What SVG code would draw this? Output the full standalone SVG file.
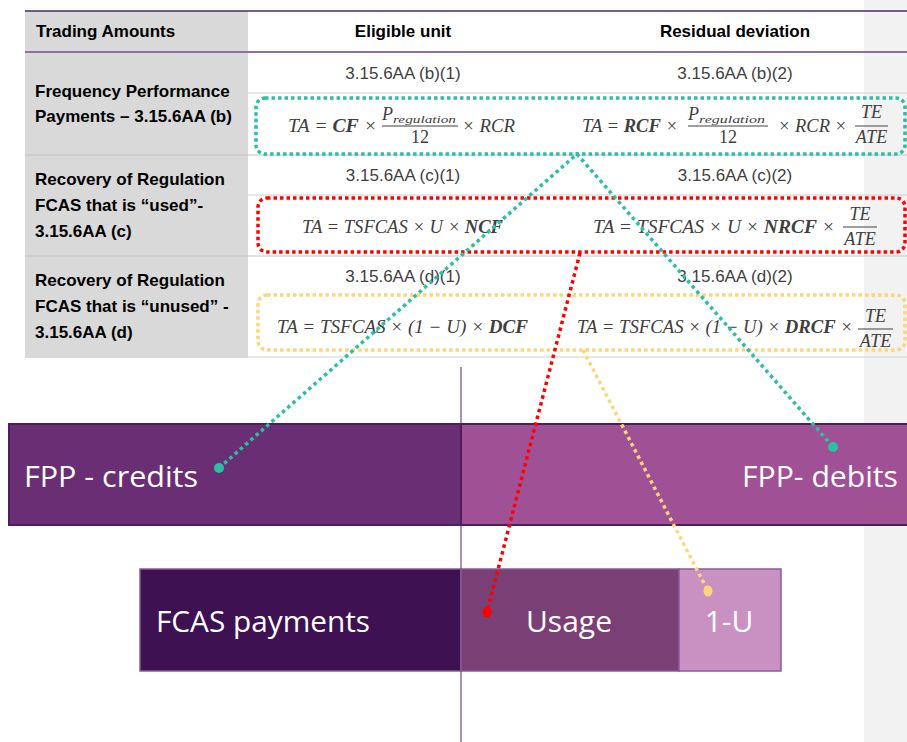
<svg xmlns="http://www.w3.org/2000/svg" width="907" height="742" viewBox="0 0 907 742">
<style>
.hd{font-family:"Liberation Sans",Arial,sans-serif;font-weight:bold;font-size:17px;fill:#000}
.rl{font-family:"Liberation Sans",Arial,sans-serif;font-size:17px;fill:#404040;text-anchor:middle}
.m{font-family:"Liberation Serif","Times New Roman",serif;font-style:italic;font-size:18px;fill:#404040}
.ms{font-family:"Liberation Serif","Times New Roman",serif;font-style:italic;font-size:11px;fill:#404040}
.mu{font-family:"Liberation Serif","Times New Roman",serif;font-size:18px;fill:#404040;text-anchor:middle}
.b{font-weight:bold}
.fl{stroke:#404040;stroke-width:1}
.box{fill:none;stroke-width:3.5;stroke-dasharray:3.5 3}
.bar{font-family:"Open Sans","Liberation Sans",sans-serif;font-size:30px;fill:#fff}
.con{fill:none;stroke-width:3.5;stroke-dasharray:3.5 3.5}
.tl{stroke:#d0d0d0;stroke-width:1}
</style>
<rect x="864" y="0" width="43" height="742" fill="#f2f2f2"/>
<g id="table">
<rect x="25" y="11" width="223" height="347" fill="#d9d9d9"/>
<line x1="25" y1="11" x2="907" y2="11" stroke="#4b2a5e" stroke-width="1.5"/>
<line x1="25" y1="52" x2="907" y2="52" stroke="#8e6fa0" stroke-width="2"/>
<line class="tl" x1="248" y1="93" x2="907" y2="93"/>
<line x1="25" y1="155" x2="907" y2="155" stroke="#c4c4c4" stroke-width="1.2"/>
<line class="tl" x1="248" y1="195" x2="907" y2="195"/>
<line x1="25" y1="256" x2="907" y2="256" stroke="#c4c4c4" stroke-width="1.2"/>
<line class="tl" x1="248" y1="357" x2="907" y2="357"/>
<text class="hd" x="36" y="37">Trading Amounts</text>
<text class="hd" x="403" y="37" text-anchor="middle">Eligible unit</text>
<text class="hd" x="735" y="37" text-anchor="middle">Residual deviation</text>
<text class="hd" x="35" y="97">Frequency Performance</text>
<text class="hd" x="35" y="122">Payments – 3.15.6AA (b)</text>
<text class="hd" x="35" y="185">Recovery of Regulation</text>
<text class="hd" x="35" y="211">FCAS that is “used”-</text>
<text class="hd" x="35" y="237">3.15.6AA (c)</text>
<text class="hd" x="35" y="286">Recovery of Regulation</text>
<text class="hd" x="35" y="312">FCAS that is “unused” -</text>
<text class="hd" x="35" y="338">3.15.6AA (d)</text>
<text class="rl" x="403" y="79">3.15.6AA (b)(1)</text>
<text class="rl" x="735" y="79">3.15.6AA (b)(2)</text>
<text class="rl" x="403" y="181">3.15.6AA (c)(1)</text>
<text class="rl" x="735" y="181">3.15.6AA (c)(2)</text>
<text class="rl" x="403" y="282">3.15.6AA (d)(1)</text>
<text class="rl" x="735" y="282">3.15.6AA (d)(2)</text>
<text class="m" x="288" y="132" textLength="89" lengthAdjust="spacingAndGlyphs">TA = <tspan class="b">CF</tspan> ×</text>
<text class="m" x="382" y="120">P</text>
<text class="ms" x="393" y="123" textLength="63" lengthAdjust="spacingAndGlyphs">regulation</text>
<line class="fl" x1="382" y1="126" x2="458" y2="126"/>
<text class="mu" x="420" y="143">12</text>
<text class="m" x="462" y="132" textLength="53" lengthAdjust="spacingAndGlyphs">× RCR</text>
<text class="m" x="582" y="132" textLength="96" lengthAdjust="spacingAndGlyphs">TA = <tspan class="b">RCF</tspan> ×</text>
<text class="m" x="688" y="120">P</text>
<text class="ms" x="699" y="123" textLength="66" lengthAdjust="spacingAndGlyphs">regulation</text>
<line class="fl" x1="688" y1="126" x2="768" y2="126"/>
<text class="mu" x="728" y="143">12</text>
<text class="m" x="778" y="132" textLength="69" lengthAdjust="spacingAndGlyphs">× RCR ×</text>
<text class="m" x="871.5" y="118" text-anchor="middle">TE</text>
<line class="fl" x1="855" y1="126" x2="888" y2="126"/>
<text class="m" x="871.5" y="143" text-anchor="middle">ATE</text>
<text class="m" x="302" y="233" textLength="201" lengthAdjust="spacingAndGlyphs">TA = TSFCAS × U × <tspan class="b">NCF</tspan></text>
<text class="m" x="593" y="233" textLength="242" lengthAdjust="spacingAndGlyphs">TA = TSFCAS × U × <tspan class="b">NRCF</tspan> ×</text>
<text class="m" x="860" y="220" text-anchor="middle">TE</text>
<line class="fl" x1="843" y1="227" x2="877" y2="227"/>
<text class="m" x="860" y="245" text-anchor="middle">ATE</text>
<text class="m" x="277" y="333" textLength="251" lengthAdjust="spacingAndGlyphs">TA = TSFCAS × (1 − U) × <tspan class="b">DCF</tspan></text>
<text class="m" x="577" y="333" textLength="276" lengthAdjust="spacingAndGlyphs">TA = TSFCAS × (1 − U) × <tspan class="b">DRCF</tspan> ×</text>
<text class="m" x="875.5" y="322" text-anchor="middle">TE</text>
<line class="fl" x1="858" y1="329" x2="893" y2="329"/>
<text class="m" x="875.5" y="347" text-anchor="middle">ATE</text>
</g>
<g id="box-b"><rect class="box" x="256" y="98" width="649" height="56" rx="9" stroke="#2bbfa4"/></g>
<g id="box-c"><rect class="box" x="258" y="198" width="647" height="54" rx="9" stroke="#ff0000"/></g>
<g id="box-d"><rect class="box" x="258" y="295" width="647" height="55" rx="9" stroke="#fdd57a"/></g>
<line x1="461" y1="367" x2="461" y2="742" stroke="#4b2a5e" stroke-width="1"/>
<g id="fpp-credits">
<rect x="9" y="424" width="452" height="101" fill="#6a2e74" stroke="#4b1e5c" stroke-width="2"/>
<text class="bar" x="24" y="487" textLength="174" lengthAdjust="spacingAndGlyphs">FPP - credits</text>
</g>
<g id="fpp-debits">
<rect x="461" y="424" width="448" height="101" fill="#a05196" stroke="#4b1e5c" stroke-width="2"/>
<text class="bar" x="898" y="487" text-anchor="end" textLength="156" lengthAdjust="spacingAndGlyphs">FPP- debits</text>
</g>
<g id="fcas-payments">
<rect x="140" y="569" width="321" height="102" fill="#3d1152" stroke="#8a5a9a" stroke-width="1.5"/>
<text class="bar" x="156" y="632" textLength="214" lengthAdjust="spacingAndGlyphs">FCAS payments</text>
</g>
<g id="usage">
<rect x="461" y="569" width="218" height="102" fill="#7a3f74" stroke="#8a5a9a" stroke-width="1.5"/>
<text class="bar" x="569" y="632" text-anchor="middle">Usage</text>
</g>
<g id="one-minus-u">
<rect x="679" y="569" width="102" height="102" fill="#c891c1" stroke="#8a5a9a" stroke-width="1.5"/>
<text class="bar" x="729" y="632" text-anchor="middle">1-U</text>
</g>
<g id="connectors">
<polyline class="con" points="219,468 577,154 833,447" stroke="#2bbfa4"/>
<line class="con" x1="580" y1="253" x2="487" y2="612" stroke="#ff0000"/>
<line class="con" x1="583" y1="350" x2="708" y2="591" stroke="#fdd57a"/>
<circle cx="219" cy="468" r="5" fill="#2bbfa4"/>
<circle cx="833" cy="447" r="5" fill="#2bbfa4"/>
<ellipse cx="487" cy="612" rx="4.5" ry="5.5" fill="#ff0000"/>
<ellipse cx="708" cy="591" rx="4.5" ry="5.5" fill="#fdd57a"/>
</g>
</svg>
